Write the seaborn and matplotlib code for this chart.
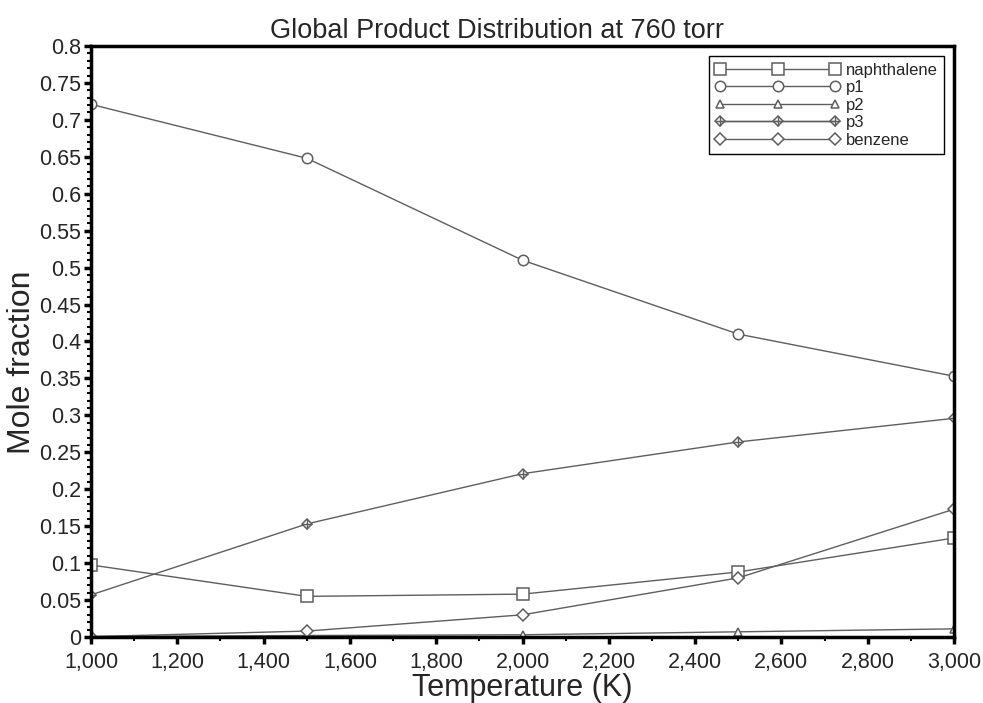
import numpy as np
import pandas as pd
import matplotlib
matplotlib.use('Agg')
import matplotlib.pyplot as plt
from matplotlib.lines import Line2D
from matplotlib.legend_handler import HandlerTuple
from matplotlib.ticker import MultipleLocator, FuncFormatter
import seaborn as sns

# data
temperature = [1000, 1500, 2000, 2500, 3000]
naphthalene = [0.0975, 0.055, 0.058, 0.088, 0.134]
p1 = [0.721, 0.648, 0.510, 0.410, 0.353]
p2 = [0.0005, 0.002, 0.003, 0.007, 0.011]
p3 = [0.057, 0.153, 0.221, 0.264, 0.296]
benzene = [0.0005, 0.008, 0.030, 0.080, 0.173]

names = ['naphthalene', 'p1', 'p2', 'p3', 'benzene']
values = [naphthalene, p1, p2, p3, benzene]
markers = ['s', 'o', '^', 'D', 'D']
sizes = [8.5, 7.5, 5.5, 5.5, 6.5]

sns.set_style('white')
plt.rcParams['font.family'] = ['Liberation Sans', 'DejaVu Sans']

fig = plt.figure(figsize=(9.83, 7.03), dpi=100)
ax = fig.add_axes([0.0926, 0.0939, 0.8779, 0.8407])

line_color = '#5e5e5e'
handles = []
for name, vals, mk, ms in zip(names, values, markers, sizes):
    sns.lineplot(x=temperature, y=vals, ax=ax, color=line_color, lw=1.0,
                 marker=mk, markersize=ms, markerfacecolor='white',
                 markeredgecolor=line_color, markeredgewidth=1.1)
    h = Line2D([], [], color=line_color, lw=1.0, marker=mk, markersize=ms,
               markerfacecolor='white', markeredgecolor=line_color, markeredgewidth=1.1)
    if name == 'p3':
        h2 = Line2D([], [], color=line_color, lw=1.0, marker='+', markersize=ms + 1,
                    markeredgecolor=line_color, markeredgewidth=1.0)
        handles.append((h, h2))
    else:
        handles.append(h)

# cross inside the p3 markers
sns.lineplot(x=temperature, y=p3, ax=ax, color=line_color, lw=0, marker='+',
             markersize=6.5, markeredgecolor=line_color, markeredgewidth=1.0)

ax.set_xlim(1000, 3000)
ax.set_ylim(0, 0.8)
ax.xaxis.set_major_locator(MultipleLocator(200))
ax.xaxis.set_minor_locator(MultipleLocator(100))
ax.yaxis.set_major_locator(MultipleLocator(0.05))
ax.yaxis.set_minor_locator(MultipleLocator(0.01))
ax.xaxis.set_major_formatter(FuncFormatter(lambda v, p: f'{int(v):,}'))
ax.yaxis.set_major_formatter(FuncFormatter(lambda v, p: f'{v:.2f}'.rstrip('0').rstrip('.')))

for s in ax.spines.values():
    s.set_linewidth(2.5)
    s.set_color('black')
ax.tick_params(axis='both', which='major', direction='out', length=5, width=2.5,
               labelsize=15.5, color='black', pad=2, bottom=True, left=True)
ax.tick_params(axis='x', which='major', pad=6)
ax.tick_params(axis='both', which='minor', direction='out', length=3, width=1.5,
               color='black', bottom=True, left=True)

ax.set_title('Global Product Distribution at 760 torr', fontsize=19.5, pad=6, x=0.47)
ax.set_xlabel('Temperature (K)', fontsize=22, labelpad=0)
ax.set_ylabel('Mole fraction', fontsize=23)
ax.yaxis.set_label_coords(-0.063, 0.465)

leg = ax.legend(handles, names, loc='upper right', numpoints=3, fontsize=12,
                frameon=True, fancybox=False, edgecolor='black', framealpha=1,
                handlelength=7.5, handletextpad=0.3, labelspacing=0.15,
                borderpad=0.4, borderaxespad=0.6,
                handler_map={tuple: HandlerTuple(ndivide=1)})
leg.get_frame().set_linewidth(1.0)

fig.savefig('out.png', dpi=100)
